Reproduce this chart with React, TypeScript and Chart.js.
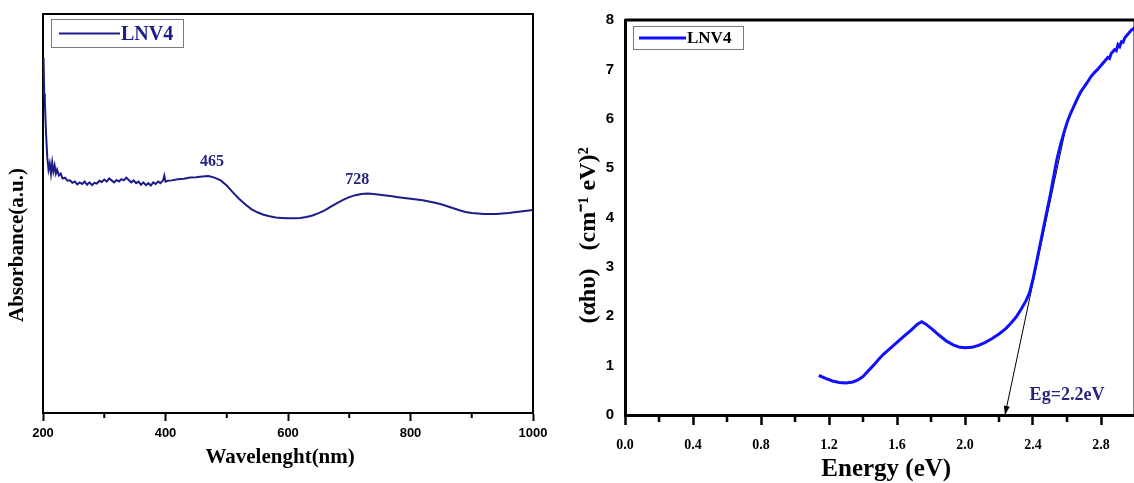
import React, { useEffect, useRef } from 'react';
import { Chart, registerables } from 'chart.js';
Chart.register(...registerables);

// ---------- data: left panel (UV-Vis absorbance) ----------
const wavelength = [
  200, 201, 202, 203, 205, 207, 209, 211, 213, 215, 217, 219, 221, 223, 226, 229, 232, 236, 240,
  244, 248, 252, 256, 260, 264, 268, 272, 276, 280, 284, 288, 292, 296, 300, 304, 308, 312, 316,
  320, 324, 328, 332, 336, 340, 344, 348, 352, 356, 360, 364, 368, 372, 376, 380, 384, 388, 392,
  396, 398, 400, 404, 410, 420, 430, 440, 450, 460, 470, 480, 490, 500, 510, 520, 530, 540, 550,
  560, 570, 580, 590, 600, 610, 620, 630, 640, 650, 660, 670, 680, 690, 700, 710, 720, 730, 740,
  750, 760, 770, 780, 790, 800, 810, 820, 830, 840, 850, 860, 870, 880, 890, 900, 910, 920, 930,
  940, 950, 960, 970, 980, 990, 1000,
];
const absorbance = [
  0.89, 0.88, 0.8, 0.78, 0.7, 0.64, 0.61, 0.625, 0.6, 0.628, 0.605, 0.62, 0.6, 0.61, 0.595, 0.6, 0.588, 0.59, 0.582,
  0.583, 0.577, 0.58, 0.573, 0.578, 0.574, 0.58, 0.572, 0.578, 0.571, 0.577, 0.575, 0.582, 0.579, 0.585, 0.58, 0.588, 0.583, 0.578,
  0.584, 0.58, 0.586, 0.583, 0.59, 0.584, 0.578, 0.583, 0.576, 0.58, 0.572, 0.578, 0.571, 0.576, 0.57, 0.578, 0.574, 0.58, 0.576,
  0.583, 0.595, 0.58, 0.582, 0.583, 0.586, 0.587, 0.59, 0.591, 0.593, 0.594, 0.59, 0.583, 0.57, 0.553, 0.537, 0.523, 0.511, 0.503,
  0.497, 0.493, 0.49, 0.489, 0.488, 0.488, 0.489, 0.491, 0.495, 0.501, 0.508, 0.517, 0.526, 0.534, 0.541, 0.546, 0.549, 0.55, 0.549,
  0.547, 0.545, 0.543, 0.541, 0.539, 0.537, 0.535, 0.533, 0.53, 0.527, 0.523, 0.518, 0.513, 0.508, 0.504, 0.501, 0.5, 0.499, 0.499,
  0.499, 0.5, 0.501, 0.503, 0.505, 0.507, 0.509,
];
const wavelengthMinorTicks = [300, 500, 700, 900];
const peakLabels = ['465', '728'];
const peakLabelX = [476, 713];
const peakLabelY = [0.629, 0.584];

// ---------- data: right panel (Tauc plot) ----------
const energy = [
  1.14, 1.18, 1.22, 1.26, 1.3, 1.34, 1.37, 1.4, 1.43, 1.46, 1.49, 1.52, 1.56, 1.6, 1.64, 1.68, 1.72, 1.745,
  1.77, 1.81, 1.85, 1.89, 1.93, 1.97, 2.0, 2.04, 2.08, 2.12, 2.16, 2.2, 2.24, 2.27, 2.3, 2.33, 2.36, 2.38,
  2.4, 2.42, 2.44, 2.46, 2.48, 2.5, 2.52, 2.54, 2.56, 2.58, 2.6, 2.62, 2.64, 2.66, 2.68, 2.7, 2.72, 2.74,
  2.76, 2.78, 2.8, 2.82, 2.84, 2.85, 2.86, 2.88, 2.89, 2.9, 2.91, 2.92, 2.93, 2.94, 2.96, 2.98, 3.0,
];
const alphaHv2 = [
  0.8, 0.74, 0.69, 0.66, 0.65, 0.67, 0.71, 0.78, 0.89, 1.0, 1.12, 1.23, 1.35, 1.47, 1.59, 1.71, 1.84, 1.89,
  1.84, 1.73, 1.61, 1.5, 1.42, 1.37, 1.36, 1.37, 1.41, 1.47, 1.55, 1.64, 1.75, 1.86, 1.98, 2.14, 2.32, 2.48,
  2.75, 3.08, 3.42, 3.76, 4.1, 4.43, 4.8, 5.17, 5.45, 5.7, 5.92, 6.1, 6.25, 6.4, 6.54, 6.64, 6.74, 6.85,
  6.93, 7.0, 7.08, 7.16, 7.24, 7.22, 7.32, 7.4, 7.38, 7.5, 7.46, 7.56, 7.55, 7.64, 7.72, 7.8, 7.84,
];
const tangentEnergy = [2.235, 2.595];
const tangentValue = [0.0, 5.85];
const energyMinorTicks = [0.2, 0.6, 1.0, 1.4, 1.8, 2.2, 2.6];
const gapLabels = ['Eg=2.2eV'];
const gapLabelX = [2.6];
const gapLabelY = [0.4];

// ---------- styling ----------
const SERIF = '"Liberation Serif", "Times New Roman", serif';
const SANS = '"Liberation Sans", Arial, sans-serif';
const NAVY = '#1c1c8a';
const BLUE = '#1010ff';
const LABEL_NAVY = '#25257f';

const decorPlugin = {
  id: 'decor',
  afterDraw(chart: any, _args: any, opts: any) {
    const { ctx, chartArea } = chart;
    const xs = chart.scales.x;
    const ys = chart.scales.y;
    ctx.save();
    // frame (top + right)
    ctx.strokeStyle = '#000';
    ctx.lineWidth = opts.frameWidth;
    ctx.beginPath();
    ctx.moveTo(chartArea.left, chartArea.top);
    ctx.lineTo(chartArea.right, chartArea.top);
    ctx.lineTo(chartArea.right, chartArea.bottom);
    ctx.stroke();
    // minor ticks
    ctx.lineWidth = opts.minorWidth;
    ctx.beginPath();
    for (const v of opts.minorTicks) {
      const px = xs.getPixelForValue(v);
      ctx.moveTo(px, chartArea.bottom);
      ctx.lineTo(px, chartArea.bottom + opts.minorLen);
    }
    ctx.stroke();
    // text annotations
    ctx.fillStyle = opts.labelColor;
    ctx.font = opts.labelFont;
    ctx.textAlign = 'center';
    ctx.textBaseline = 'middle';
    opts.labels.forEach((t: string, i: number) => {
      ctx.fillText(t, xs.getPixelForValue(opts.labelX[i]), ys.getPixelForValue(opts.labelY[i]));
    });
    // arrow head on tangent dataset
    if (opts.arrowDataset != null) {
      const meta = chart.getDatasetMeta(opts.arrowDataset);
      const p0 = meta.data[0];
      const p1 = meta.data[1];
      const ang = Math.atan2(p0.y - p1.y, p0.x - p1.x);
      const L = 9, W = 3;
      ctx.fillStyle = '#000';
      ctx.beginPath();
      ctx.moveTo(p0.x, p0.y);
      ctx.lineTo(p0.x - L * Math.cos(ang) + W * Math.sin(ang), p0.y - L * Math.sin(ang) - W * Math.cos(ang));
      ctx.lineTo(p0.x - L * Math.cos(ang) - W * Math.sin(ang), p0.y - L * Math.sin(ang) + W * Math.cos(ang));
      ctx.closePath();
      ctx.fill();
    }
    // legend box
    const lg = opts.legend;
    const ds = chart.data.datasets[0];
    const bx = chartArea.left + lg.dx;
    const by = chartArea.top + lg.dy;
    ctx.fillStyle = '#fff';
    ctx.fillRect(bx, by, lg.w, lg.h);
    ctx.strokeStyle = '#7a7a7a';
    ctx.lineWidth = 1;
    ctx.strokeRect(bx + 0.5, by + 0.5, lg.w, lg.h);
    ctx.strokeStyle = ds.borderColor;
    ctx.lineWidth = ds.borderWidth;
    ctx.beginPath();
    ctx.moveTo(bx + lg.lineStart, by + lg.h / 2 + 0.5);
    ctx.lineTo(bx + lg.lineEnd, by + lg.h / 2 + 0.5);
    ctx.stroke();
    ctx.fillStyle = lg.textColor;
    ctx.font = lg.font;
    ctx.textAlign = 'left';
    ctx.textBaseline = 'middle';
    ctx.fillText(ds.label, bx + lg.lineEnd + 1, by + lg.h / 2 + 1.5);
    ctx.restore();
  },
};

function makeLeftConfig(): any {
  return {
    type: 'scatter',
    data: {
      datasets: [
        {
          label: 'LNV4',
          data: wavelength.map((x, i) => ({ x, y: absorbance[i] })),
          showLine: true,
          borderColor: NAVY,
          borderWidth: 2,
          pointRadius: 0,
          tension: 0,
        },
      ],
    },
    options: {
      responsive: false,
      animation: false,
      devicePixelRatio: 1,
      layout: { padding: { top: 14, right: 27, left: 0, bottom: 0 } },
      plugins: {
        legend: { display: false },
        tooltip: { enabled: false },
        decor: {
          frameWidth: 2,
          minorTicks: wavelengthMinorTicks,
          minorLen: 5,
          minorWidth: 2,
          labels: peakLabels,
          labelX: peakLabelX,
          labelY: peakLabelY,
          labelColor: LABEL_NAVY,
          labelFont: `bold 16px ${SERIF}`,
          arrowDataset: null,
          legend: { dx: 8, dy: 5, w: 132, h: 28, lineStart: 8, lineEnd: 69, textColor: NAVY, font: `bold 20px ${SERIF}` },
        },
      },
      scales: {
        x: {
          type: 'linear',
          min: 200,
          max: 1000,
          ticks: {
            stepSize: 200,
            callback: (v: any) => String(v),
            color: '#000',
            font: { family: SANS, weight: 'bold', size: 13 },
            padding: 5,
            maxRotation: 0,
          },
          grid: { drawOnChartArea: false, drawTicks: true, tickLength: 8, tickWidth: 2, tickColor: '#000' },
          border: { color: '#000', width: 2 },
          title: {
            display: true,
            text: 'Wavelenght(nm)   ',
            color: '#000',
            font: { family: SERIF, weight: 'bold', size: 21, lineHeight: 1.2 },
            padding: { top: 0, bottom: 13 },
          },
          afterFit: (s: any) => { s.height = 70; },
        },
        y: {
          type: 'linear',
          min: 0,
          max: 1,
          ticks: { display: false },
          grid: { drawOnChartArea: false, drawTicks: false },
          border: { color: '#000', width: 2 },
          title: {
            display: true,
            text: 'Absorbance(a.u.)            ',
            color: '#000',
            font: { family: SERIF, weight: 'bold', size: 21, lineHeight: 1.2 },
            padding: { top: 5, bottom: 0 },
          },
          afterFit: (s: any) => { s.width = 43; },
        },
      },
    },
    plugins: [decorPlugin],
  };
}

function makeRightConfig(): any {
  return {
    type: 'scatter',
    data: {
      datasets: [
        {
          label: 'LNV4',
          data: energy.map((x, i) => ({ x, y: alphaHv2[i] })),
          showLine: true,
          borderColor: BLUE,
          borderWidth: 3,
          pointRadius: 0,
          tension: 0,
        },
        {
          label: 'tangent',
          data: tangentEnergy.map((x, i) => ({ x, y: tangentValue[i] })),
          showLine: true,
          borderColor: '#000',
          borderWidth: 1,
          pointRadius: 0,
        },
      ],
    },
    options: {
      responsive: false,
      animation: false,
      devicePixelRatio: 1,
      layout: { padding: { top: 15, right: 25, left: 0, bottom: 0 } },
      plugins: {
        legend: { display: false },
        tooltip: { enabled: false },
        decor: {
          frameWidth: 3,
          minorTicks: energyMinorTicks,
          minorLen: 7,
          minorWidth: 2.5,
          labels: gapLabels,
          labelX: gapLabelX,
          labelY: gapLabelY,
          labelColor: LABEL_NAVY,
          labelFont: `bold 18px ${SERIF}`,
          arrowDataset: 1,
          legend: { dx: 8, dy: 6, w: 110, h: 23, lineStart: 6, lineEnd: 53, textColor: '#000', font: `bold 17px ${SERIF}` },
        },
      },
      scales: {
        x: {
          type: 'linear',
          min: 0,
          max: 3,
          ticks: {
            stepSize: 0.4,
            includeBounds: false,
            callback: (v: any) => Number(v).toFixed(1),
            color: '#000',
            font: { family: SERIF, weight: 'bold', size: 14 },
            padding: 12,
            maxRotation: 0,
          },
          grid: { drawOnChartArea: false, drawTicks: true, tickLength: 10, tickWidth: 2.5, tickColor: '#000' },
          border: { color: '#000', width: 3 },
          title: {
            display: true,
            text: '  Energy (eV)',
            color: '#000',
            font: { family: SERIF, weight: 'bold', size: 25, lineHeight: 1.1 },
            padding: { top: 0, bottom: 0 },
          },
          afterFit: (s: any) => { s.height = 68; },
        },
        y: {
          type: 'linear',
          min: 0,
          max: 8,
          ticks: { stepSize: 1, color: '#000', font: { family: SANS, weight: 'bold', size: 15 }, padding: 11 },
          grid: { drawOnChartArea: false, drawTicks: false },
          border: { color: '#000', width: 3 },
          title: {
            display: true,
            text: '(\u03B1h\u03C5)   (cm\u207B\u00B9 eV)\u00B2      ',
            color: '#000',
            font: { family: SERIF, weight: 'bold', size: 24, lineHeight: 1.2 },
            padding: { top: 14, bottom: 0 },
          },
          afterFit: (s: any) => { s.width = 65; },
        },
      },
    },
    plugins: [decorPlugin],
  };
}

function ChartCanvas({ makeConfig, width, height, left }: { makeConfig: () => any; width: number; height: number; left: number }) {
  const ref = useRef<HTMLCanvasElement>(null);
  useEffect(() => {
    const chart = new Chart(ref.current as HTMLCanvasElement, makeConfig());
    return () => chart.destroy();
  }, [makeConfig]);
  return (
    <canvas
      ref={ref}
      width={width}
      height={height}
      style={{ position: 'absolute', left, top: 0, width, height, display: 'block' }}
    />
  );
}

export default function App() {
  return (
    <div
      style={{
        position: 'absolute',
        left: 0,
        top: 0,
        width: 1134,
        height: 483,
        overflow: 'hidden',
        background: '#fff',
      }}
    >
      <ChartCanvas makeConfig={makeLeftConfig} width={560} height={483} left={0} />
      <ChartCanvas makeConfig={makeRightConfig} width={600} height={483} left={560} />
    </div>
  );
}
